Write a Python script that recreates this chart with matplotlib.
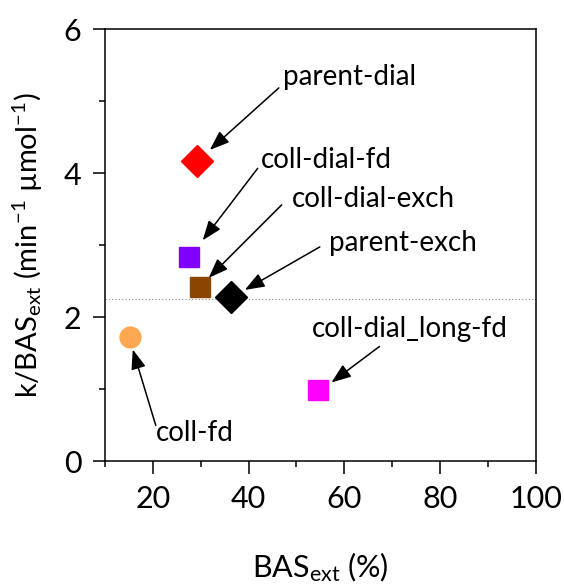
import matplotlib
matplotlib.use("Agg")
import matplotlib.pyplot as plt
from matplotlib.ticker import MultipleLocator
from matplotlib.transforms import offset_copy

plt.rcParams['font.family'] = ['Lato', 'DejaVu Sans']
plt.rcParams['mathtext.fontset'] = 'custom'
plt.rcParams['mathtext.rm'] = 'Lato'
plt.rcParams['mathtext.it'] = 'Lato:italic'

# data
names = ['parent-dial', 'coll-dial-fd', 'coll-dial-exch', 'parent-exch',
         'coll-dial_long-fd', 'coll-fd']
bas_ext = [29.2, 27.5, 29.8, 36.3, 54.6, 15.2]
k_norm = [4.17, 2.83, 2.42, 2.28, 0.98, 1.73]
markers = ['D', 's', 's', 'D', 's', 'o']
colors = ['#ff0000', '#7f00ff', '#8b4500', '#000000', '#ff00ff', '#ffa852']
ref_level = 2.25

# label placement, pixel offsets from the marker: text, arrow tail, arrow head
text_off = [(86, 84), (72, 97), (92, 88), (98, 54), (-7, 61), (26, -96)]
tail_off = [(82, 73), (69, 89), (82, 82), (89, 50), (61, 44), (26, -89)]
head_off = [(13, 11), (14, 17), (9, 9), (14, 7), (13, 8), (3, -13)]

fig = plt.figure(figsize=(5.64, 5.84), dpi=100)
ax = fig.add_axes([0.186, 0.2106, 0.764, 0.7394])

ax.axhline(ref_level, color='#888888', lw=0.8, ls=(0, (1, 2)), zorder=1)

for x, y, m, c in zip(bas_ext, k_norm, markers, colors):
    size = 15 if m == 'o' else (16 if m == 'D' else 14)
    ax.plot(x, y, marker=m, ms=size, color=c, mec=c, ls='none', zorder=3)

for x, y, name, to, ta, hd in zip(bas_ext, k_norm, names, text_off, tail_off, head_off):
    ax.annotate(name, xy=(x, y), xytext=to, textcoords='offset pixels',
                ha='left', va='center', fontsize=20)
    ax.annotate('', xy=(x, y),
                xycoords=offset_copy(ax.transData, fig=fig, x=hd[0], y=hd[1], units='dots'),
                xytext=(x, y),
                textcoords=offset_copy(ax.transData, fig=fig, x=ta[0], y=ta[1], units='dots'),
                arrowprops=dict(arrowstyle='-|>,head_length=1.2,head_width=0.45',
                                color='black', lw=1.1, shrinkA=0, shrinkB=0))

ax.set_xlim(10, 100)
ax.set_ylim(0, 6)
ax.set_xticks([20, 40, 60, 80, 100])
ax.xaxis.set_minor_locator(MultipleLocator(10))
ax.yaxis.set_major_locator(MultipleLocator(2))
ax.yaxis.set_minor_locator(MultipleLocator(1))
ax.tick_params(which='major', direction='out', length=9, width=1.1, labelsize=22, pad=8)
ax.tick_params(which='minor', direction='out', length=4.5, width=1.1)
for s in ax.spines.values():
    s.set_linewidth(1.1)

ax.set_xlabel(r'BAS$_{\mathrm{ext}}$ (%)', fontsize=22, labelpad=27)
ax.set_ylabel('k/BAS$_{\\mathrm{ext}}$ (min$^{-1}$ \u00b5mol$^{-1}$)', fontsize=21,
              labelpad=13)

fig.savefig('out.png', dpi=100)
